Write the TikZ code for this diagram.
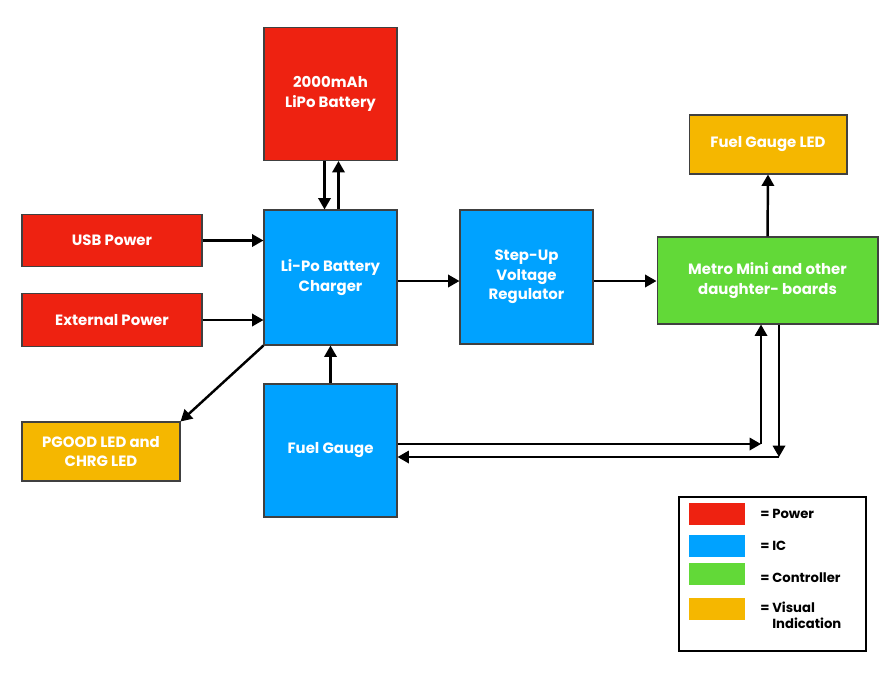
\documentclass[tikz,border=0pt]{standalone}
\usepackage{fontspec}
\setmainfont{Poppins}
\usetikzlibrary{positioning}
\usetikzlibrary{arrows.meta}

\definecolor{pwr}{HTML}{EE2211}
\definecolor{ic}{HTML}{00A2FF}
\definecolor{ctl}{HTML}{62D938}
\definecolor{vis}{HTML}{F5B700}

\begin{document}
\begin{tikzpicture}
		[x=0.02cm, y=-0.02cm,
		 blk/.style={draw=black!75, line width=0.6pt, text=white, align=center, inner sep=0pt,
			font=\bfseries\fontsize{8.5}{11}\selectfont},
		 sq/.style={blk, minimum width=2.66cm, minimum height=2.66cm},
		 wide/.style={blk, minimum width=3.6cm, minimum height=1.05cm},
		 swatch/.style={minimum width=1.12cm, minimum height=0.44cm, inner sep=0pt},
		 key/.style={anchor=west, align=left, inner sep=0pt, font=\bfseries\fontsize{7.5}{9}\selectfont},
		 arr/.style={-{Triangle[length=6.5pt,width=7pt]}, line width=1.4pt}]
		\useasboundingbox (0,0) rectangle (884,673);

		\node[sq, fill=pwr] (bat) at (330.5,94) {2000mAh\\LiPo Battery};
		\node[sq, fill=ic, minimum height=2.7cm] (chg) at (330.5,277.5) {Li-Po Battery\\Charger};
		\node[sq, fill=ic] (fg) at (330.5,450.5) {Fuel Gauge};
		\node[sq, fill=ic, minimum height=2.68cm] (reg) at (526.5,277) {Step-Up\\Voltage\\Regulator};
		\node[wide, fill=pwr] (usb) at (112,240.5) {USB Power};
		\node[wide, fill=pwr] (ext) at (112,320) {External Power};
		\node[blk, fill=vis, minimum width=3.16cm, minimum height=1.18cm] (pg) at (101,451.5) {PGOOD LED and\\CHRG LED};
		\node[blk, fill=ctl, minimum width=4.42cm, minimum height=1.74cm] (mm) at (767.5,280.5) {Metro Mini and other\\daughter- boards};
		\node[blk, fill=vis, minimum width=3.16cm, minimum height=1.18cm] (led) at (768,144.5) {Fuel Gauge LED};

		\coordinate (j1) at (761,444);
		\coordinate (j2) at (779,457);

		\draw[arr] ([xshift=-0.12cm]bat.south) -- ([xshift=-0.12cm]chg.north);
		\draw[arr] ([xshift=0.16cm]chg.north) -- ([xshift=0.16cm]bat.south);
		\draw[arr] (usb.east) -- (usb.east -| chg.west);
		\draw[arr] (ext.east) -- (ext.east -| chg.west);
		\draw[arr] (chg.south west) -- (pg.north east);
		\draw[arr] (fg.north) -- (chg.south);
		\draw[arr] (chg.east |- 0,281) -- (reg.west |- 0,281);
		\draw[arr] (reg.east |- 0,281) -- (mm.west |- 0,281);
		\draw[arr] (mm.north) -- (led.south);
		\draw[arr] (fg.east |- j1) -- (j1);
		\draw[arr] (j1) -- (j1 |- mm.south);
		\draw[arr] (j2 |- mm.south) -- (j2);
		\draw[arr] (j2) -- (fg.east |- j2);

		% legend
		\draw[line width=0.7pt] (679,497) rectangle (866,651);
		\node[swatch, fill=pwr] (kp) at (717,514) {};
		\node[swatch, fill=ic] (ki) at (717,546) {};
		\node[swatch, fill=ctl] (kc) at (717,574) {};
		\node[swatch, fill=vis] (kv) at (717,609) {};
		\node[key] at (760,514) {= Power};
		\node[key] at (760,546) {= IC};
		\node[key] at (760,578) {= Controller};
		\node[key, anchor=north west] at (760,602) {= Visual\\\phantom{= }Indication};
	\end{tikzpicture}
\end{document}
